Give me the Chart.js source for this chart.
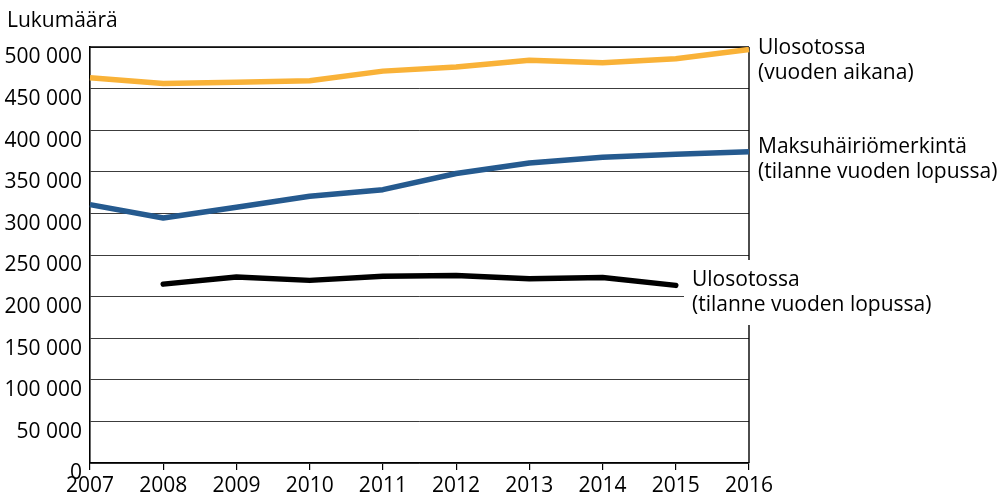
<!DOCTYPE html>
<html>
<head>
<meta charset="utf-8">
<script src="https://cdn.jsdelivr.net/npm/chart.js@4"></script>
<style>
html,body{margin:0;padding:0;background:#fff;}
#wrap{width:1002px;height:496px;}
</style>
</head>
<body>
<div id="wrap"><canvas id="c" width="1002" height="496"></canvas></div>
<script>
const years = ['2007','2008','2009','2010','2011','2012','2013','2014','2015','2016'];
const ulosotossaVuodenAikana = [463000, 456000, 457500, 459500, 471000, 476000, 484000, 481000, 486000, 497000];
const maksuhairiomerkinta = [310500, 294500, 307500, 320500, 328500, 348000, 360500, 367500, 371000, 374000];
const ulosotossaLopussa = [null, 215000, 223500, 219500, 224500, 225500, 221500, 223000, 213500, null];
const yTickValues = [0, 50000, 100000, 150000, 200000, 250000, 300000, 350000, 400000, 450000, 500000];
const yTickLabels = ['0','50 000','100 000','150 000','200 000','250 000','300 000','350 000','400 000','450 000','500 000'];
const axisTitle = 'Lukumäärä';
const seriesLabels = [
  ['Ulosotossa','(vuoden aikana)'],
  ['Maksuhäiriömerkintä','(tilanne vuoden lopussa)'],
  ['Ulosotossa','(tilanne vuoden lopussa)']
];

const FONT = '"Open Sans", "Noto Sans", sans-serif';

const framePlugin = {
  id: 'frame',
  beforeDatasetsDraw(chart) {
    const {ctx, chartArea: a} = chart;
    ctx.save();
    ctx.strokeStyle = '#000';
    ctx.lineWidth = 1.6;
    ctx.beginPath();
    ctx.moveTo(a.left, a.top);
    ctx.lineTo(a.right, a.top);
    ctx.stroke();
    ctx.lineWidth = 1.4;
    ctx.beginPath();
    ctx.moveTo(a.right, a.top);
    ctx.lineTo(a.right, a.bottom);
    ctx.stroke();
    ctx.restore();
  }
};

const textPlugin = {
  id: 'texts',
  afterDraw(chart) {
    const {ctx, chartArea: a} = chart;
    ctx.save();
    ctx.fillStyle = '#fff';
    ctx.fillRect(a.right - 65, 260, 290, 65);
    ctx.fillStyle = '#000';
    ctx.font = '21px ' + FONT;
    ctx.textBaseline = 'alphabetic';
    ctx.textAlign = 'left';
    ctx.fillText(axisTitle, 7, 27);
    const xr = a.right + 9;
    ctx.fillText(seriesLabels[0][0], xr, 53.5);
    ctx.fillText(seriesLabels[0][1], xr, 78.5);
    ctx.fillText(seriesLabels[1][0], xr, 152.5);
    ctx.fillText(seriesLabels[1][1], xr, 177.5);
    const xb = 692;
    ctx.fillText(seriesLabels[2][0], xb, 285.7);
    ctx.fillText(seriesLabels[2][1], xb, 310.7);
    ctx.restore();
  }
};

new Chart(document.getElementById('c'), {
  type: 'line',
  data: {
    labels: years,
    datasets: [
      {
        label: seriesLabels[0].join(' '),
        data: ulosotossaVuodenAikana,
        borderColor: '#F9B238',
        borderWidth: 5.5,
        pointRadius: 0,
        tension: 0,
        borderJoinStyle: 'round',
        borderCapStyle: 'butt'
      },
      {
        label: seriesLabels[1].join(' '),
        data: maksuhairiomerkinta,
        borderColor: '#255A8F',
        borderWidth: 5.5,
        pointRadius: 0,
        tension: 0,
        borderJoinStyle: 'round',
        borderCapStyle: 'butt'
      },
      {
        label: seriesLabels[2].join(' '),
        data: ulosotossaLopussa,
        borderColor: '#000',
        borderWidth: 5.5,
        pointRadius: 0,
        tension: 0,
        borderJoinStyle: 'round',
        borderCapStyle: 'round',
        spanGaps: false
      }
    ]
  },
  options: {
    responsive: false,
    animation: false,
    events: [],
    layout: { padding: { top: 47, right: 253, left: 0, bottom: 0 } },
    plugins: {
      legend: { display: false },
      tooltip: { enabled: false },
      title: { display: false }
    },
    scales: {
      x: {
        type: 'category',
        offset: false,
        afterFit(scale) { scale.height = 33; },
        grid: {
          display: true,
          drawOnChartArea: false,
          drawTicks: true,
          tickLength: 7,
          color: '#000',
          lineWidth: 1.2
        },
        border: { display: true, color: '#000', width: 1.2 },
        ticks: {
          color: '#000',
          font: { family: FONT, size: 21 },
          padding: 3,
          maxRotation: 0,
          autoSkip: false,
          labelOffset: 0
        }
      },
      y: {
        min: 0,
        max: 500000,
        afterFit(scale) { scale.width = 90; },
        afterBuildTicks(scale) { scale.ticks = yTickValues.map(v => ({ value: v })); },
        grid: {
          display: true,
          drawTicks: false,
          tickLength: 0,
          color: '#3c3c3c',
          lineWidth: 1
        },
        border: { display: true, color: '#000', width: 1.6 },
        ticks: {
          color: '#000',
          font: { family: FONT, size: 21 },
          padding: 8,
          labelOffset: 10.5,
          callback(value) {
            const i = yTickValues.indexOf(value);
            return i >= 0 ? yTickLabels[i] : '';
          }
        }
      }
    }
  },
  plugins: [framePlugin, textPlugin]
});
</script>
</body>
</html>
